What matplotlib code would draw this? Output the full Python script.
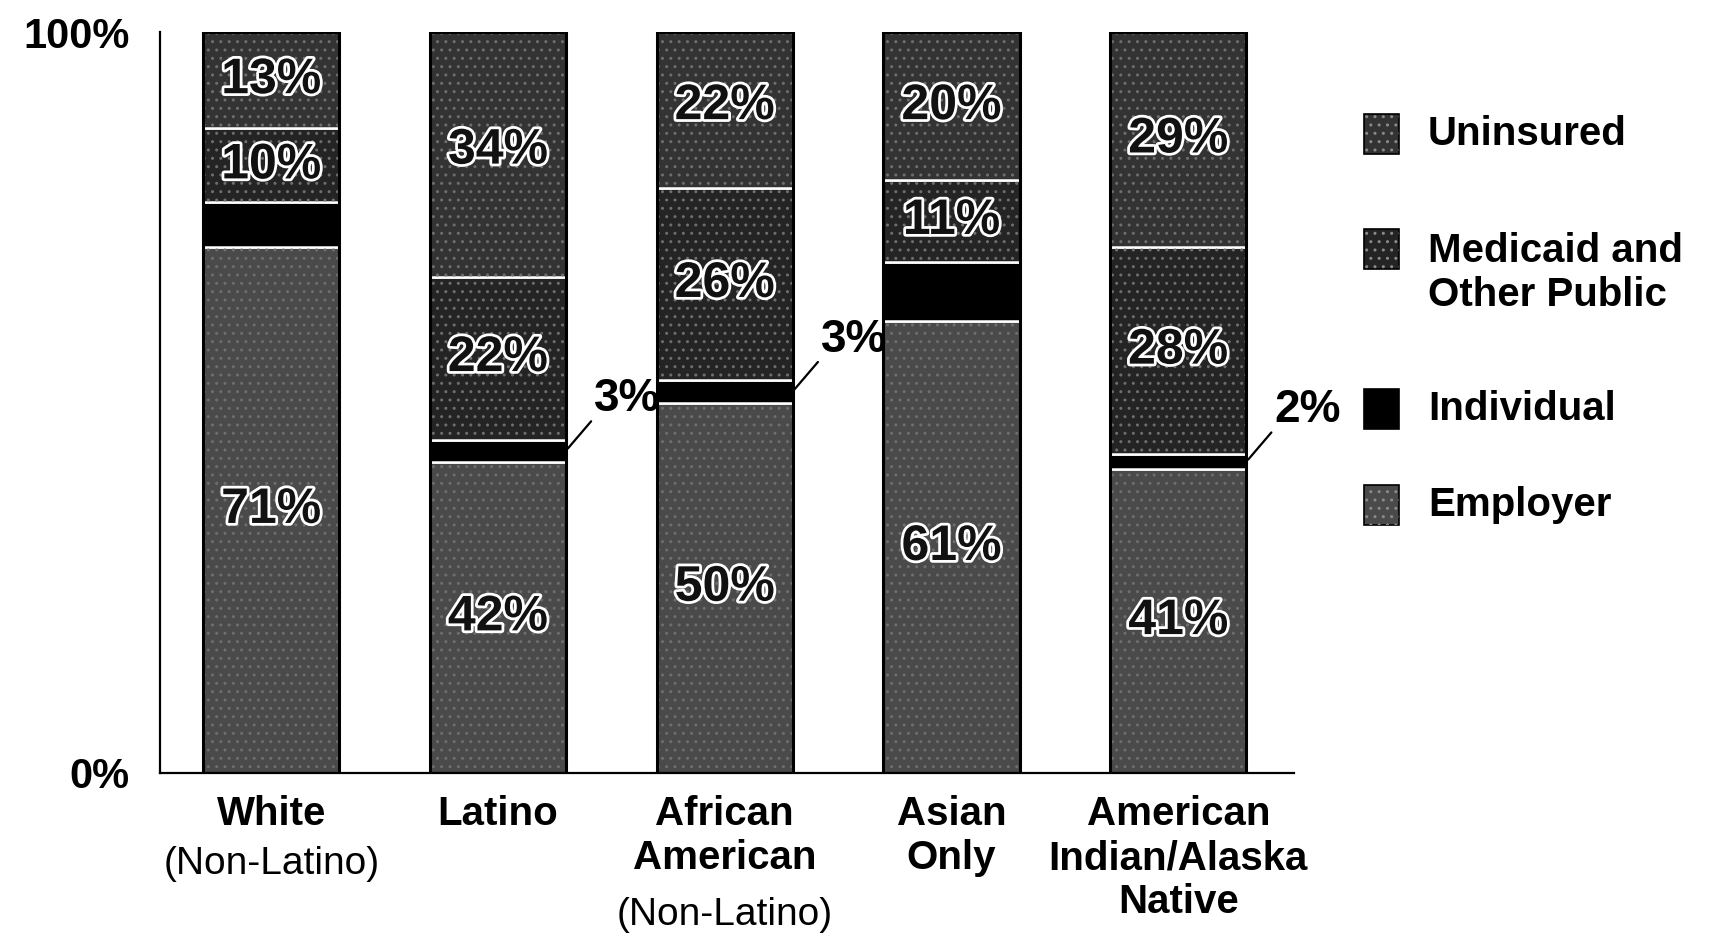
import matplotlib
matplotlib.use("Agg")
import matplotlib.pyplot as plt
import matplotlib.patheffects as pe
from matplotlib.patches import Rectangle

groups = ["White", "Latino", "African\nAmerican", "Asian\nOnly",
          "American\nIndian/Alaska\nNative"]
subtitles = ["(Non-Latino)", "", "(Non-Latino)", "", ""]

employer = [71, 42, 50, 61, 41]
individual = [6, 3, 3, 8, 2]
medicaid = [10, 22, 26, 11, 28]
uninsured = [13, 34, 22, 20, 29]

# which groups get the small "Individual" share called out beside the bar
individual_callout = [False, True, True, False, True]

legend_labels = ["Uninsured", "Medicaid and\nOther Public", "Individual", "Employer"]

COL_EMP = "#4a4a4a"
COL_IND = "#000000"
COL_MED = "#242424"
COL_UNI = "#333333"

plt.rcParams["font.family"] = ["Liberation Sans", "DejaVu Sans"]

fig = plt.figure(figsize=(17.12, 9.34), dpi=100)
ax = fig.add_axes([0.0935, 0.1724, 0.6623, 0.7933])

x = list(range(len(groups)))
W = 0.6

bottoms = [0] * len(x)
segments = [(employer, COL_EMP), (individual, COL_IND), (medicaid, COL_MED), (uninsured, COL_UNI)]
for vals, col in segments:
    ax.bar(x, vals, W, bottom=bottoms, color=col, edgecolor="white", linewidth=1.8, zorder=2)
    if col != COL_IND:
        # speckled print texture
        ax.bar(x, vals, W, bottom=bottoms, fill=False, edgecolor="#6e6e6e",
               linewidth=0, hatch="..", zorder=3)
    bottoms = [b + v for b, v in zip(bottoms, vals)]

# outer outline of each column
ax.bar(x, [100] * len(x), W, fill=False, edgecolor="black", linewidth=2.2, zorder=4)

halo = [pe.withStroke(linewidth=4, foreground="white")]


def inner_label(xi, y, v):
    ax.text(xi, y, f"{v}%", ha="center", va="center", fontsize=36, fontweight="bold",
            color="#111111", path_effects=halo, zorder=6)


for i in x:
    inner_label(i, employer[i] / 2, employer[i])
    b = employer[i] + individual[i]
    inner_label(i, b + medicaid[i] / 2, medicaid[i])
    b += medicaid[i]
    inner_label(i, min(b + uninsured[i] / 2, 100 - 6.5), uninsured[i])
    if individual_callout[i]:
        ax.annotate(f"{individual[i]}%", xy=(i + W / 2, employer[i] + individual[i] / 2),
                    xytext=(44, 37), textcoords="offset points",
                    ha="center", va="center", fontsize=33, fontweight="bold",
                    color="black", annotation_clip=False,
                    arrowprops=dict(arrowstyle="-", lw=1.6, color="black",
                                    shrinkA=0, shrinkB=2, relpos=(0.1, 0.25)),
                    zorder=7)

ax.set_xlim(-0.49, 4.51)
ax.set_ylim(0, 100)
ax.set_yticks([0, 100])
ax.set_yticklabels(["0%", "100%"], fontsize=30, fontweight="bold")
ax.set_xticks(x)
ax.set_xticklabels(groups, fontsize=29, fontweight="bold", linespacing=1.2, va="top")
ax.tick_params(axis="both", length=0)
ax.tick_params(axis="y", pad=22)
ax.tick_params(axis="x", pad=16)

for i, sub in enumerate(subtitles):
    if sub:
        nlines = groups[i].count("\n") + 1
        ax.annotate(sub, xy=(i, 0), xycoords=("data", "axes fraction"),
                    xytext=(0, -16 - nlines * 36.5), textcoords="offset points",
                    ha="center", va="top", fontsize=28, annotation_clip=False)

for s in ["top", "right"]:
    ax.spines[s].set_visible(False)
ax.spines["left"].set_linewidth(1.6)
ax.spines["bottom"].set_linewidth(1.6)

# legend, drawn by hand to keep the uneven row spacing
leg_rows = [(0.8565, COL_UNI, 0.8565), (0.7334, COL_MED, 0.7072),
            (0.5621, COL_IND, 0.5621), (0.4593, COL_EMP, 0.4593)]
sq_w, sq_h = 0.0204, 0.0428
for (yc, col, ty), label in zip(leg_rows, legend_labels):
    fig.add_artist(Rectangle((0.7966, yc - sq_h / 2), sq_w, sq_h, transform=fig.transFigure,
                             facecolor=col, edgecolor="black", linewidth=1.2))
    if col != COL_IND:
        fig.add_artist(Rectangle((0.7966, yc - sq_h / 2), sq_w, sq_h, transform=fig.transFigure,
                                 fill=False, edgecolor="#8a8a8a", linewidth=0, hatch=".."))
    fig.text(0.834, ty, label, ha="left", va="center", fontsize=29, fontweight="bold",
             linespacing=1.2)

fig.savefig("out.png", dpi=100)
